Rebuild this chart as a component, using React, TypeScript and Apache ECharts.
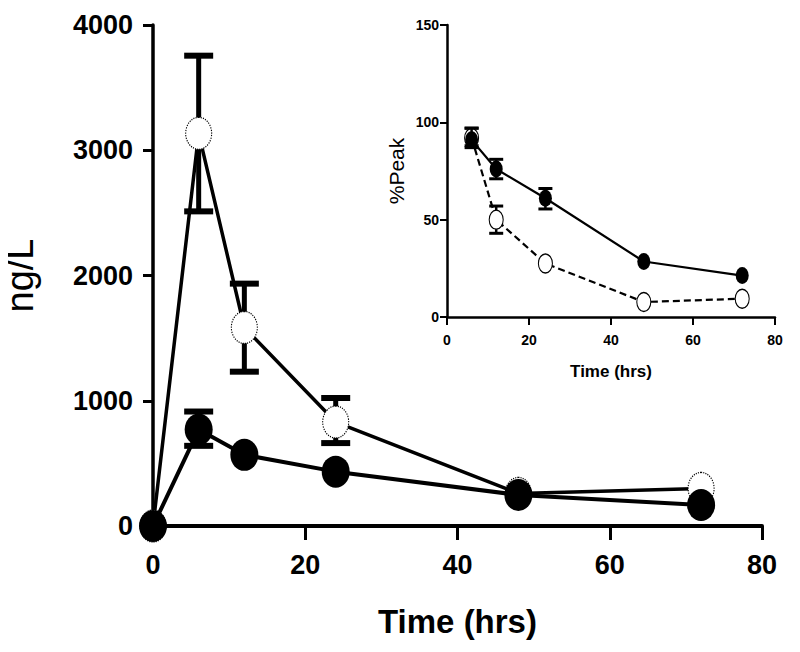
import React, { useEffect, useRef } from "react";
import * as echarts from "echarts";

// ---- Main chart data (ng/L vs Time) ----
const times = [0, 6, 12, 24, 48, 72];
const openMean = [0, 3135, 1585, 830, 260, 300];
const filledMean = [0, 770, 568, 434, 248, 168];
// error bars: [time, low, high]
const openErr = [
  [6, 2512, 3755],
  [12, 1232, 1935],
  [24, 662, 1022],
];
const filledErr = [[6, 640, 914]];

// ---- Inset data (%Peak vs Time) ----
const insetTimes = [6, 12, 24, 48, 72];
const insetFilled = [91, 76, 61, 28.5, 21.3];
const insetOpen = [92, 50, 27.5, 7.7, 9.4];
const insetFilledErr = [
  [6, 87, 97],
  [12, 71, 81],
  [24, 55.5, 66],
];
const insetOpenErr = [
  [6, 88, 97],
  [12, 43, 57],
];

const mainYTicks = { min: 0, max: 4000, interval: 1000 };
const mainXTicks = { min: 0, max: 80, interval: 20 };
const insetYTicks = { min: 0, max: 150, interval: 50 };
const insetXTicks = { min: 0, max: 80, interval: 20 };

const SANS = "'Liberation Sans', Arial, sans-serif";
const ELLIPSE = "path://M0,-16 A13,16 0 1,1 0,16 A13,16 0 1,1 0,-16 Z";
const plain = (v: number) => String(v);

function pairs(xs: number[], ys: number[]) {
  return xs.map((x, i) => [x, ys[i]]);
}

function errRenderer(capW: number, lw: number, capLw: number) {
  return (params: any, api: any) => {
    const x = api.value(0);
    const lo = api.value(1);
    const hi = api.value(2);
    const pHi = api.coord([x, hi]);
    const pLo = api.coord([x, lo]);
    const h = capW / 2;
    return {
      type: "group",
      children: [
        {
          type: "line",
          shape: { x1: pHi[0], y1: pHi[1], x2: pLo[0], y2: pLo[1] },
          style: { stroke: "#000", lineWidth: lw },
        },
        {
          type: "line",
          shape: { x1: pHi[0] - h, y1: pHi[1], x2: pHi[0] + h, y2: pHi[1] },
          style: { stroke: "#000", lineWidth: capLw },
        },
        {
          type: "line",
          shape: { x1: pLo[0] - h, y1: pLo[1], x2: pLo[0] + h, y2: pLo[1] },
          style: { stroke: "#000", lineWidth: capLw },
        },
      ],
    };
  };
}

export default function App() {
  const ref = useRef<HTMLDivElement>(null);
  useEffect(() => {
    if (!ref.current) return;
    const chart = echarts.init(ref.current, undefined, { renderer: "svg" });
    const axisCommon = (lw: number) => ({
      axisLine: { show: true, lineStyle: { color: "#000", width: lw } },
      splitLine: { show: false },
    });
    chart.setOption({
      animation: false,
      backgroundColor: "#fff",
      grid: [
        { left: 153, right: 38, top: 25, bottom: 126, containLabel: false, outerBoundsMode: "none" },
        { left: 447, right: 25, top: 25, bottom: 335, containLabel: false, outerBoundsMode: "none" },
      ],
      xAxis: [
        {
          gridIndex: 0,
          type: "value",
          ...mainXTicks,
          ...axisCommon(4),
          axisTick: { show: true, length: 14, lineStyle: { color: "#000", width: 3 } },
          axisLabel: {
            color: "#000", fontSize: 27, fontWeight: "bold", fontFamily: SANS, margin: 25,
            showMinLabel: true, showMaxLabel: true, formatter: plain,
          },
          name: "Time (hrs)",
          nameLocation: "middle",
          nameGap: 79,
          nameTextStyle: { color: "#000", fontSize: 33, fontWeight: "bold", fontFamily: SANS },
        },
        {
          gridIndex: 1,
          type: "value",
          ...insetXTicks,
          ...axisCommon(2.5),
          axisTick: { show: true, length: 8, lineStyle: { color: "#000", width: 2 } },
          axisLabel: {
            color: "#000", fontSize: 14, fontWeight: "bold", fontFamily: SANS, margin: 16,
            showMinLabel: true, showMaxLabel: true, formatter: plain,
          },
          name: "Time (hrs)",
          nameLocation: "middle",
          nameGap: 46,
          nameTextStyle: { color: "#000", fontSize: 17, fontWeight: "bold", fontFamily: SANS },
        },
      ],
      yAxis: [
        {
          gridIndex: 0,
          type: "value",
          ...mainYTicks,
          ...axisCommon(3.5),
          axisTick: { show: true, length: 10, lineStyle: { color: "#000", width: 3 } },
          axisLabel: {
            color: "#000", fontSize: 27, fontWeight: "bold", fontFamily: SANS, margin: 20,
            showMinLabel: true, showMaxLabel: true, formatter: plain,
          },
          name: "ng/L",
          nameLocation: "middle",
          nameGap: 114,
          nameTextStyle: { color: "#000", fontSize: 38, fontFamily: SANS },
        },
        {
          gridIndex: 1,
          type: "value",
          ...insetYTicks,
          ...axisCommon(2.5),
          axisTick: { show: true, length: 7, lineStyle: { color: "#000", width: 2 } },
          axisLabel: {
            color: "#000", fontSize: 14, fontWeight: "bold", fontFamily: SANS, margin: 8,
            showMinLabel: true, showMaxLabel: true, formatter: plain,
          },
          name: "%Peak",
          nameLocation: "middle",
          nameGap: 40,
          nameTextStyle: { color: "#000", fontSize: 21, fontFamily: SANS },
        },
      ],
      series: [
        // main: open error bars (below open markers)
        {
          type: "custom",
          xAxisIndex: 0,
          yAxisIndex: 0,
          renderItem: errRenderer(29, 5, 6),
          data: openErr,
          encode: { x: 0, y: [1, 2] },
          z: 1,
        },
        {
          type: "line",
          xAxisIndex: 0,
          yAxisIndex: 0,
          data: pairs(times, openMean),
          symbol: ELLIPSE,
          symbolSize: [26, 32],
          showAllSymbol: true,
          lineStyle: { color: "#000", width: 3.5 },
          itemStyle: { color: "#fff", borderColor: "#000", borderWidth: 1.2, borderType: "dotted" },
          z: 2,
        },
        {
          type: "custom",
          xAxisIndex: 0,
          yAxisIndex: 0,
          renderItem: errRenderer(29, 5, 6),
          data: filledErr,
          encode: { x: 0, y: [1, 2] },
          z: 3,
        },
        {
          type: "line",
          xAxisIndex: 0,
          yAxisIndex: 0,
          data: pairs(times, filledMean),
          symbol: ELLIPSE,
          symbolSize: [28, 32],
          showAllSymbol: true,
          lineStyle: { color: "#000", width: 4 },
          itemStyle: { color: "#000", borderColor: "#000", borderWidth: 0 },
          z: 4,
        },
        // inset
        {
          type: "custom",
          xAxisIndex: 1,
          yAxisIndex: 1,
          renderItem: errRenderer(14, 2.5, 3),
          data: insetOpenErr,
          encode: { x: 0, y: [1, 2] },
          z: 1,
        },
        {
          type: "line",
          xAxisIndex: 1,
          yAxisIndex: 1,
          data: pairs(insetTimes, insetOpen),
          symbol: ELLIPSE,
          symbolSize: [14, 19],
          showAllSymbol: true,
          lineStyle: { color: "#000", width: 2.2, type: [7, 4] },
          itemStyle: { color: "#fff", borderColor: "#000", borderWidth: 1.2 },
          z: 2,
        },
        {
          type: "custom",
          xAxisIndex: 1,
          yAxisIndex: 1,
          renderItem: errRenderer(14, 2.5, 3),
          data: insetFilledErr,
          encode: { x: 0, y: [1, 2] },
          z: 3,
        },
        {
          type: "line",
          xAxisIndex: 1,
          yAxisIndex: 1,
          data: pairs(insetTimes, insetFilled),
          symbol: ELLIPSE,
          symbolSize: [13, 17],
          showAllSymbol: true,
          lineStyle: { color: "#000", width: 2.2 },
          itemStyle: { color: "#000" },
          z: 4,
        },
      ],
    });
    return () => chart.dispose();
  }, []);
  return <div ref={ref} style={{ width: 800, height: 652, margin: -8 }} />;
}
